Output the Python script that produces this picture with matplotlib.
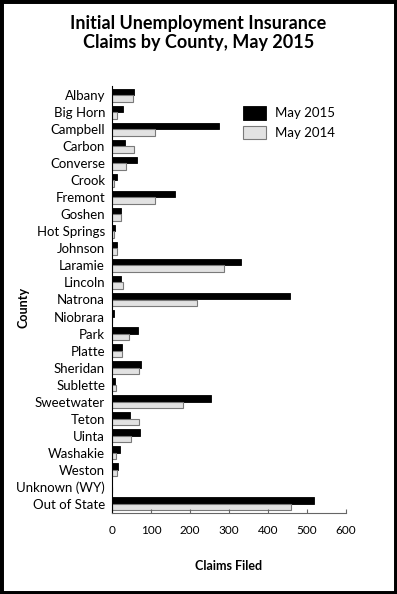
import numpy as np
import matplotlib.pyplot as plt
from matplotlib.patches import Rectangle

counties = ["Albany", "Big Horn", "Campbell", "Carbon", "Converse", "Crook",
            "Fremont", "Goshen", "Hot Springs", "Johnson", "Laramie", "Lincoln",
            "Natrona", "Niobrara", "Park", "Platte", "Sheridan", "Sublette",
            "Sweetwater", "Teton", "Uinta", "Washakie", "Weston",
            "Unknown (WY)", "Out of State"]
may_2015 = [57, 27, 275, 34, 64, 14, 161, 22, 8, 14, 330, 22,
            456, 4, 66, 26, 74, 8, 254, 47, 71, 21, 15, 0, 517]
may_2014 = [55, 14, 110, 56, 37, 6, 111, 22, 6, 14, 286, 28,
            219, 1, 43, 25, 70, 9, 183, 68, 48, 10, 12, 0, 459]
x_ticks = [0, 100, 200, 300, 400, 500, 600]

plt.rcParams['font.family'] = ['Lato', 'DejaVu Sans']

fig = plt.figure(figsize=(3.97, 5.94), dpi=100)
ax = fig.add_axes([112 / 397, 1 - 513 / 594, (346 - 112) / 397, (513 - 86) / 594])

y = np.arange(len(counties))
h = 0.37
ax.barh(y - h / 2, may_2015, height=h, color="black", edgecolor="black",
        linewidth=0.6, label="May 2015")
ax.barh(y + h / 2, may_2014, height=h, color="#e2e2e2", edgecolor="#7a7a7a",
        linewidth=0.8, label="May 2014")

ax.set_ylim(len(counties) - 0.45, -0.55)
ax.set_xlim(0, 600)
ax.set_yticks(y)
ax.set_yticklabels(counties, fontsize=9.5)
ax.set_xticks(x_ticks)
ax.tick_params(axis="x", direction="in", length=3, labelsize=8.5, pad=9,
               color="#666666")
ax.tick_params(axis="y", length=0, pad=5)
for s in ["top", "right"]:
    ax.spines[s].set_visible(False)
ax.spines["bottom"].set_color("#666666")
ax.spines["left"].set_color("black")

ax.set_xlabel("Claims Filed", fontsize=9, fontweight="bold", labelpad=17)
fig.text(24 / 397, 1 - 307 / 594, "County", rotation=90, fontsize=9,
         fontweight="bold", ha="center", va="center")

fig.text(0.5, 1 - 33 / 594, "Initial Unemployment Insurance\nClaims by County, May 2015",
         ha="center", va="center", fontsize=13, fontweight="bold",
         linespacing=1.2)

ax.legend(loc="upper left", bbox_to_anchor=(0.51, 0.98), frameon=False,
          fontsize=9.5, handlelength=1.7, handleheight=1.15, labelspacing=0.5,
          handletextpad=0.7)

fig.patches.append(Rectangle((0, 0), 1, 1, transform=fig.transFigure,
                             fill=False, edgecolor="black", linewidth=5))

fig.savefig("out.png", dpi=100)
